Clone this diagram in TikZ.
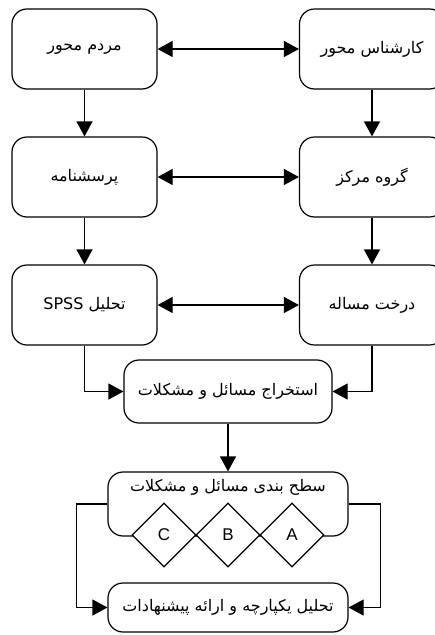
\documentclass[tikz,border=0pt]{standalone}
\usepackage{fontspec}
\setmainfont{Liberation Sans}
\newfontfamily\arabicfont[Script=Arabic]{DejaVu Sans}
\TeXXeTstate=1
\usetikzlibrary{
  arrows.meta,
  shapes.geometric}
\newcommand\fa[1]{{\arabicfont\beginR #1\endR}}

\begin{document}
\begin{tikzpicture}[x=1pt,y=-1pt,line width=1.2pt,
  >={Triangle[length=15pt,width=16pt]}]
\useasboundingbox (0,0) rectangle (435,635);
\clip (0,0) rectangle (435,635);

\tikzset{
  box/.style={
    draw,
    rounded corners=15pt,
    minimum width=145pt,
    minimum height=80pt,
    font=\fontsize{16}{18}\selectfont,
  },
  dia/.style={
    draw,
    fill=white,
    diamond,
    aspect=1,
    inner sep=0pt,
    minimum width=64pt,
    minimum height=64pt,
    font=\fontsize{17}{20}\selectfont,
  },
}

\node[box] (people) at (84.5,49) {\fa{مردم محور}};
\node[box] (expert) at (372,49) {\fa{کارشناس محور}};
\node[box] (quest) at (84.5,177) {\fa{پرسشنامه}};
\node[box] (focus) at (372,177) {\fa{گروه مرکز}};
\node[box] (spss) at (84.5,305) {\fa{تحلیل \beginL SPSS\endL}};
\node[box] (tree) at (372,305) {\fa{درخت مساله}};
\node[box,minimum width=208pt,minimum height=63pt] (extract) at (228,391.5)
  {\fa{استخراج مسائل و مشکلات}};
\node[box,minimum width=240pt,minimum height=64pt] (level) at (228,504) {};
\node[font=\fontsize{16}{18}\selectfont] (leveltext) at (228,487)
  {\fa{سطح بندی مسائل و مشکلات}};
\foreach[count=\k] \ltr in {C,B,A} {
  \node[dia] (d\ltr) at (100+64*\k,535) {\ltr};
}
\node[box,minimum width=240pt,minimum height=49pt] (final) at (228,607.5)
  {\fa{تحلیل یکپارچه و ارائه پیشنهادات}};

\draw[<->] (people) -- (expert);
\draw[<->] (quest) -- (focus);
\draw[<->] (spss) -- (tree);
\draw[->] (people) -- (quest);
\draw[->] (expert) -- (focus);
\draw[->] (quest) -- (spss);
\draw[->] (focus) -- (tree);
\draw[->] (spss.south) |- (extract.west);
\draw[->] (tree.south) |- (extract.east);
\draw[->] (extract) -- (level);
\draw[->] (level.west) -- ++(-31,0) |- (final.west);
\draw[->] (level.east) -- ++(32,0) |- (final.east);
\end{tikzpicture}
\end{document}
